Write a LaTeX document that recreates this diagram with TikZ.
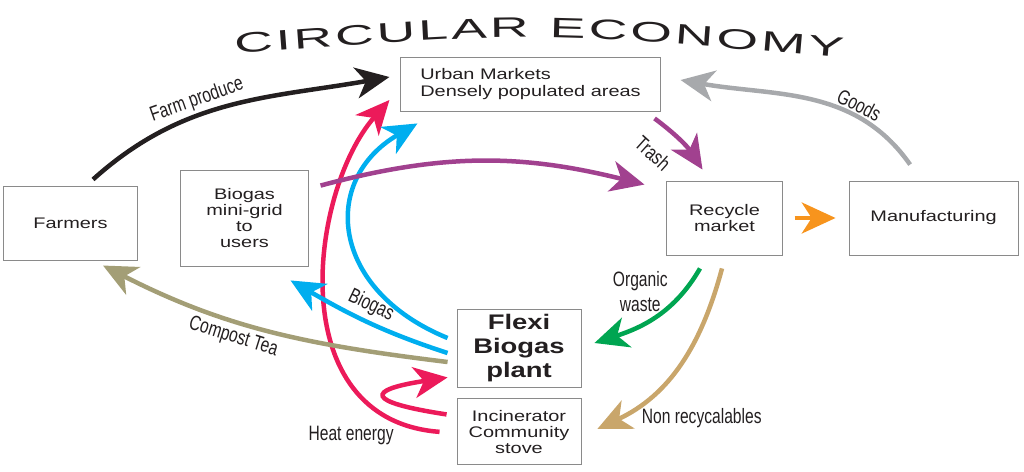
\documentclass[tikz,border=0pt]{standalone}
\usepackage{fontspec}
\setmainfont{Liberation Sans}
\newfontfamily\boxfont{Liberation Sans}[FakeStretch=1.3]
\newfontfamily\lblfont{Liberation Sans}[FakeStretch=0.75]
\newfontfamily\titlefont{Liberation Sans}[FakeStretch=1.9]
\usepackage{xcolor}
\definecolor{colorInk}{HTML}{231F20}
\definecolor{colorBorder}{HTML}{8A8A8A}
\definecolor{colorTrash}{HTML}{A1418F}
\definecolor{colorGoods}{HTML}{A7A9AC}
\definecolor{colorSort}{HTML}{F7941D}
\definecolor{colorOrganic}{HTML}{00A551}
\definecolor{colorResidue}{HTML}{C9A66B}
\definecolor{colorCompost}{HTML}{A39E76}
\definecolor{colorGas}{HTML}{00AEEF}
\definecolor{colorHeat}{HTML}{EC1A5A}
\usetikzlibrary{arrows.meta, positioning, decorations.text}
\tikzset{box/.style={draw=colorBorder, line width=0.6pt, align=center, inner sep=2pt, text=colorInk, font=\boxfont\fontsize{10.9}{11.5}\selectfont}}
\tikzset{lbl/.style={inner sep=1pt, text=colorInk, font=\lblfont\fontsize{14.8}{17.5}\selectfont}}
\tikzset{flow/.style={->, line width=3.2pt}}

\begin{document}
\begin{tikzpicture}[>={Stealth[length=24pt, width=22pt, inset=7pt]}, x=0.025cm, y=-0.025cm]
\useasboundingbox (0,0) rectangle (1024,472);
\path [decorate, decoration={text along path, text align=fit to path, text color=colorInk, text={|\titlefont\fontsize{20}{20}\selectfont|CIRCULAR ECONOMY}}] (235,54) .. controls (536,31) .. (843,58);
\node[box, minimum width=3.33cm, minimum height=1.83cm] (farmers) at (70.5,223.5) {Farmers};
\node[box, minimum width=3.18cm, minimum height=2.4cm] (minigrid) at (244.5,218) {Biogas\\mini-grid\\to\\users};
\node[box, minimum width=6.48cm, minimum height=1.35cm, align=left] (urban) at (530.5,84) {Urban Markets\\Densely populated areas};
\node[box, minimum width=2.88cm, minimum height=1.85cm] (recycle) at (724.5,218) {Recycle\\market};
\node[box, minimum width=4.23cm, minimum height=1.85cm, right=1.65cm of recycle] (manufacturing) {Manufacturing};
\node[box, minimum width=3.1cm, minimum height=1.95cm, font=\boxfont\bfseries\fontsize{15}{17}\selectfont] (plant) at (519,348) {Flexi\\Biogas\\plant};
\node[box, minimum width=3.1cm, minimum height=1.65cm, below=0.275cm of plant] (incinerator) {Incinerator\\Community\\stove};
% heat from the stove
\draw [flow, colorHeat] ([shift={(-17,0)}]incinerator.west) .. controls (280,420) and (310,190) .. node[lbl, pos=0.1, anchor=north east] {Heat energy} ([shift={(-11,16)}]urban.west);
\draw [flow, colorHeat] ([shift={(-10,16)}]incinerator.north west) .. controls (365,402) and (365,390) .. ([shift={(-9,-10)}]plant.south west);
% biogas out of the plant
\draw [flow, colorGas] ([shift={(-9,-10)}]plant.west) .. controls (330,290) and (320,180) .. ([shift={(17,12)}]urban.south west);
\draw [flow, colorGas] ([shift={(-9,5)}]plant.west) to[out=162, in=-30] node[lbl, sloped, above=2pt, pos=0.52] {Biogas} ([shift={(-18,14)}]minigrid.south east);
\draw [flow, colorCompost] ([shift={(-9,14)}]plant.west) to[out=173, in=-27] node[lbl, sloped, below=2pt, pos=0.6] {Compost Tea} ([shift={(32.5,5)}]farmers.south);
% the loop through the city
\draw [flow, colorInk] ([shift={(22.5,-7)}]farmers.north) to[out=42, in=190] node[lbl, sloped, above=1pt, pos=0.4] {Farm produce} ([shift={(-11,-7)}]urban.west);
\draw [flow, colorTrash] ([shift={(12,16)}]minigrid.north east) to[out=15, in=166] ([shift={(-22,4)}]recycle.north west);
\draw [flow, colorTrash] ([shift={(-6,7)}]urban.south east) to[bend left=10] node[lbl, sloped, below=12pt, pos=0.3] {Trash} ([shift={(-22,-11)}]recycle.north);
\draw [flow, colorGoods] ([shift={(-23.5,-16)}]manufacturing.north) to[out=125, in=350] node[lbl, sloped, above, pos=0.3] {Goods} ([shift={(20,-4)}]urban.east);
\draw [flow, colorSort] ([shift={(12,0)}]recycle.east) -- ([shift={(-13,0)}]manufacturing.west);
\draw [flow, colorOrganic] ([shift={(-24.5,13)}]recycle.south) to[out=240, in=18] node[lbl, pos=0.2, left=9pt, align=center] {Organic\\waste} ([shift={(13,-5)}]plant.east);
\draw [flow, colorResidue] ([shift={(-2.5,13)}]recycle.south) to[out=255, in=25] node[lbl, pos=1, anchor=west, xshift=29pt, yshift=7.5pt] {Non recycalables} ([shift={(16,-3)}]incinerator.east);
\end{tikzpicture}
\end{document}
